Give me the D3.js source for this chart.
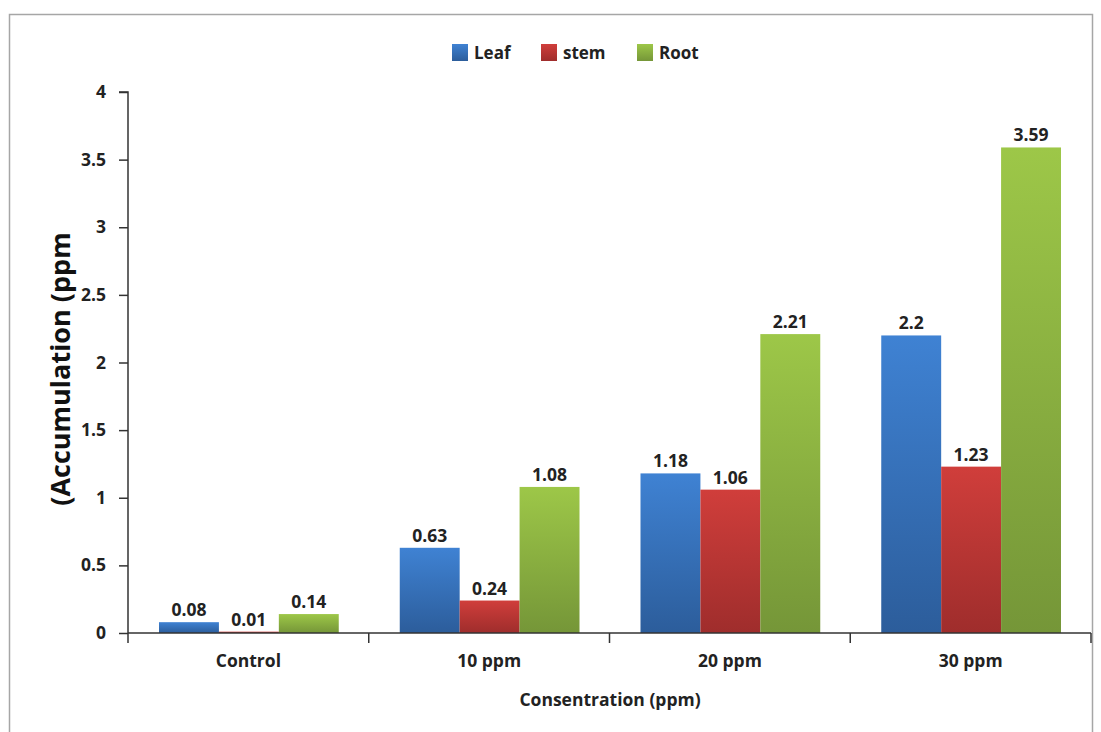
<!DOCTYPE html>
<html><head><meta charset="utf-8">
<script src="https://cdn.jsdelivr.net/npm/d3@7"></script>
<style>body{margin:0;background:#fff}svg{display:block}</style>
</head><body>
<svg id="c" width="1101" height="732"></svg>
<script>
const categories = ["Control", "10 ppm", "20 ppm", "30 ppm"];
const seriesNames = ["Leaf", "stem", "Root"];
const leaf = [0.08, 0.63, 1.18, 2.2];
const stem = [0.01, 0.24, 1.06, 1.23];
const root = [0.14, 1.08, 2.21, 3.59];
const yTicks = [0, 0.5, 1, 1.5, 2, 2.5, 3, 3.5, 4];
const yTickLabels = ["0", "0.5", "1", "1.5", "2", "2.5", "3", "3.5", "4"];
const colors = [["#3f82d3", "#2c5d9b"], ["#d03e3b", "#9f2d2c"], ["#9dc748", "#759638"]];

const svg = d3.select("#c");
const font = "'Open Sans', Lato, sans-serif";
const L = 128, R = 1091, T = 92, B = 633;

// frame
svg.append("path").attr("d", "M9.5,740V14.5H1092.5V740").attr("fill", "none").attr("stroke", "#a6a6a6").attr("stroke-width", 1.5);

const x0 = d3.scaleBand().domain(categories).range([L, R]).paddingInner(0).paddingOuter(0);
const x1 = d3.scaleBand().domain(seriesNames).range([31, x0.bandwidth() - 30]);
const y = d3.scaleLinear().domain([0, 4]).range([B, T]);

const defs = svg.append("defs");
colors.forEach((c, i) => {
  const g = defs.append("linearGradient").attr("id", "g" + i).attr("x1", 0).attr("y1", 0).attr("x2", 0).attr("y2", 1);
  g.append("stop").attr("offset", "0%").attr("stop-color", c[0]);
  g.append("stop").attr("offset", "100%").attr("stop-color", c[1]);
});

const data = [leaf, stem, root];
categories.forEach((cat, ci) => {
  seriesNames.forEach((s, si) => {
    const v = data[si][ci];
    const bx = x0(cat) + x1(s);
    svg.append("rect").attr("x", bx).attr("y", y(v)).attr("width", x1.bandwidth())
      .attr("height", B - y(v)).attr("fill", `url(#g${si})`);
    svg.append("text").attr("x", bx + x1.bandwidth() / 2).attr("y", y(v) - 6)
      .attr("text-anchor", "middle").attr("font-family", font).attr("font-weight", "bold")
      .attr("font-size", 17.5).attr("fill", "#222").text(v);
  });
});

// y axis
const yAxis = d3.axisLeft(y).tickValues(yTicks).tickFormat((d, i) => yTickLabels[i]).tickSize(9).tickPadding(13);
const ya = svg.append("g").attr("transform", `translate(${L},0)`).call(yAxis);
ya.select(".domain").attr("stroke", "#333").attr("stroke-width", 1.5).attr("d", `M-9,${T}H0V${B}`);
ya.selectAll(".tick line").attr("stroke", "#333").attr("stroke-width", 1.5);
ya.selectAll(".tick text").attr("font-family", font).attr("font-weight", "bold").attr("font-size", 17.5).attr("fill", "#222");

// x axis
const xa = svg.append("g").attr("transform", `translate(0,${B})`);
xa.append("line").attr("x1", L).attr("x2", R).attr("stroke", "#333").attr("stroke-width", 1.5);
const bounds = categories.map(c => x0(c)).concat([R]);
xa.selectAll("line.t").data(bounds).enter().append("line").attr("class", "t")
  .attr("x1", d => d).attr("x2", d => d).attr("y1", 0).attr("y2", 10).attr("stroke", "#333").attr("stroke-width", 1.5);
xa.selectAll("text").data(categories).enter().append("text")
  .attr("x", d => x0(d) + x0.bandwidth() / 2).attr("y", 34).attr("text-anchor", "middle")
  .attr("font-family", font).attr("font-weight", "bold").attr("font-size", 17.5).attr("fill", "#222").text(d => d);

// axis titles
svg.append("text").attr("x", 610).attr("y", 706).attr("text-anchor", "middle")
  .attr("font-family", font).attr("font-weight", "bold").attr("font-size", 17.5).attr("fill", "#222")
  .text("Consentration (ppm)");
svg.append("text").attr("transform", "translate(70,369) rotate(-90)").attr("text-anchor", "middle")
  .attr("font-family", font).attr("font-weight", "bold").attr("font-size", 27).attr("fill", "#111")
  .text("(Accumulation (ppm");

// legend
const legX = [452, 541, 637];
seriesNames.forEach((s, i) => {
  svg.append("rect").attr("x", legX[i]).attr("y", 44).attr("width", 16).attr("height", 17).attr("fill", `url(#g${i})`);
  svg.append("text").attr("x", legX[i] + 22).attr("y", 59).attr("font-family", font).attr("font-weight", "bold")
    .attr("font-size", 17).attr("fill", "#222").text(s);
});
</script>
</body></html>
